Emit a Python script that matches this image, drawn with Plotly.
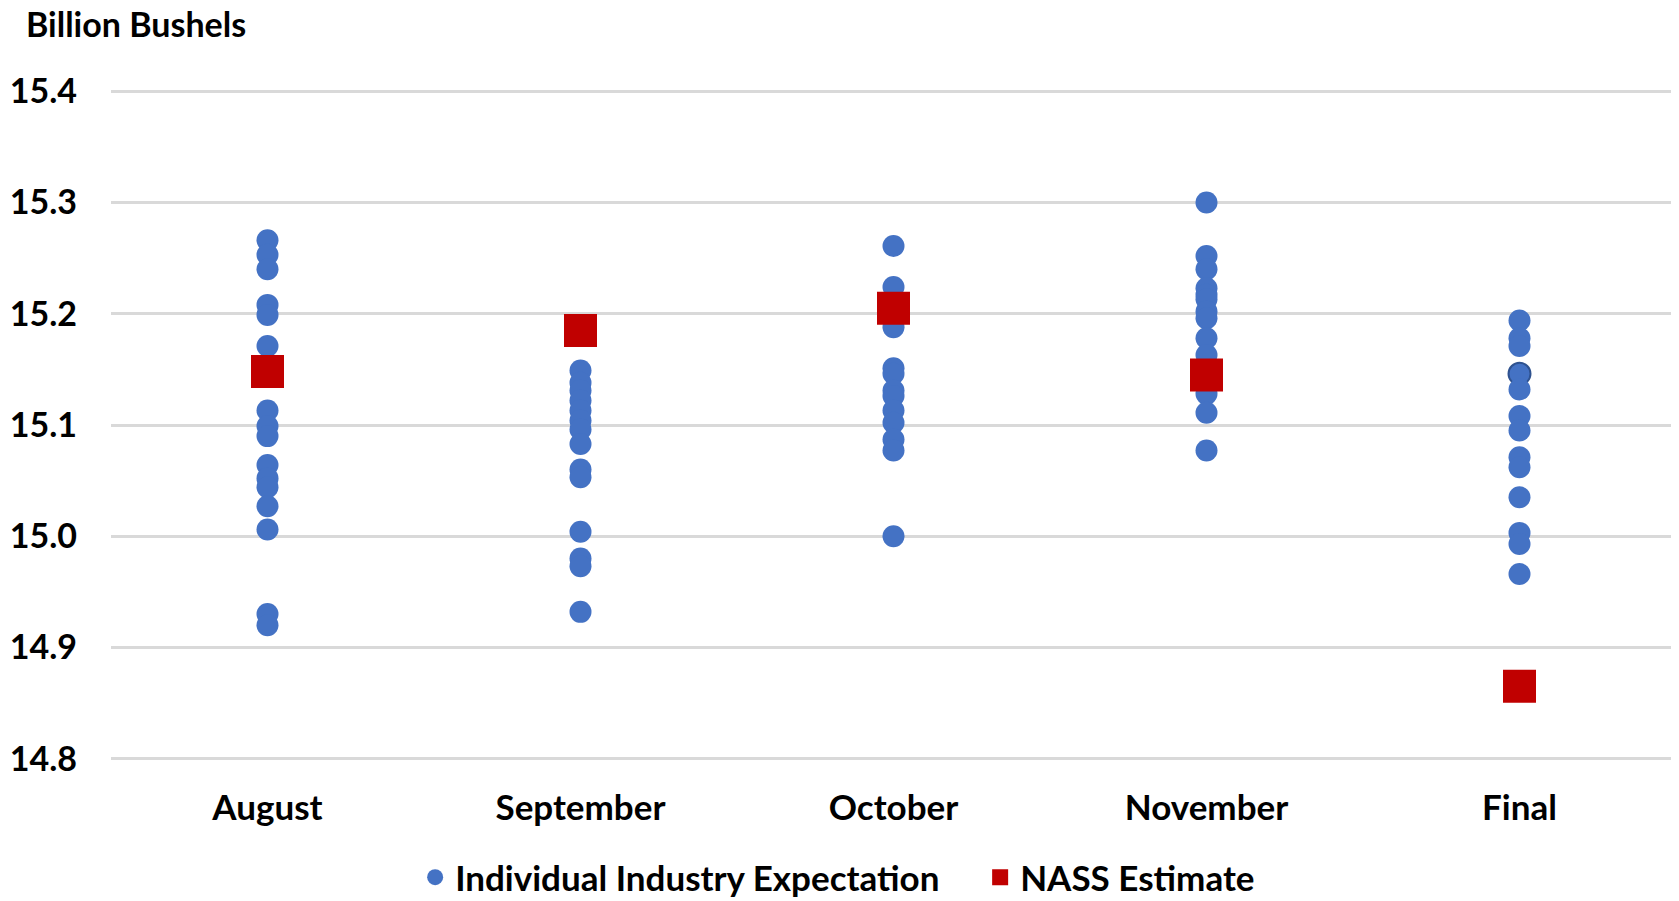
import plotly.graph_objects as go

months = ["August", "September", "October", "November", "Final"]

aug_exp = [15.266, 15.253, 15.240, 15.208, 15.199, 15.171, 15.113, 15.099, 15.090,
           15.064, 15.052, 15.044, 15.027, 15.006, 14.930, 14.920]
sep_exp = [15.149, 15.138, 15.131, 15.122, 15.113, 15.104, 15.096, 15.083, 15.060,
           15.053, 15.004, 14.980, 14.973, 14.932]
oct_exp = [15.261, 15.224, 15.188, 15.151, 15.146, 15.131, 15.126, 15.113, 15.102,
           15.087, 15.077, 15.000]
nov_exp = [15.300, 15.252, 15.240, 15.223, 15.217, 15.213, 15.202, 15.196, 15.178,
           15.163, 15.128, 15.111, 15.077]
fin_exp = [15.194, 15.178, 15.171, 15.146, 15.132, 15.108, 15.095, 15.071, 15.062,
           15.035, 15.003, 14.993, 14.966]

nass = [15.148, 15.185, 15.205, 15.145, 14.865]

y_ticks = [14.8, 14.9, 15.0, 15.1, 15.2, 15.3, 15.4]

FONT = "Lato"
BLUE = "#4472C4"
RED = "#C00000"
GRID = "#D9D9D9"

exp_groups = [aug_exp, sep_exp, oct_exp, nov_exp, fin_exp]
xs, ys = [], []
for m, vals in zip(months, exp_groups):
    xs += [m] * len(vals)
    ys += vals

line_colors = [BLUE] * len(ys)
line_widths = [0] * len(ys)
# darker-outlined point in "Final"
idx = len(ys) - len(fin_exp) + 3
line_colors[idx] = "#2F528F"
line_widths[idx] = 2

fig = go.Figure()
fig.add_trace(go.Scatter(
    x=xs, y=ys, mode="markers", name="Individual Industry Expectation",
    marker=dict(color=BLUE, size=22, symbol="circle",
                line=dict(color=line_colors, width=line_widths)),
))
fig.add_trace(go.Scatter(
    x=months, y=nass, mode="markers", name="NASS Estimate",
    marker=dict(color=RED, size=33, symbol="square", line=dict(width=0)),
))

fig.update_layout(
    width=1679, height=901,
    margin=dict(l=103, r=11, t=80, b=147, autoexpand=False),
    paper_bgcolor="white", plot_bgcolor="white",
    font=dict(family=FONT, size=34, color="black", weight="bold"),
    showlegend=True,
    legend=dict(orientation="h", xref="container", yref="container",
                x=0.579, xanchor="center", y=0.035, yanchor="middle",
                font=dict(family=FONT, size=35, color="black", weight="bold"),
                itemsizing="trace", itemwidth=30,
                entrywidth=520, entrywidthmode="pixels"),
    annotations=[dict(text="Billion Bushels", xref="paper", yref="paper",
                      x=-0.0556, y=1.095, xanchor="left", yanchor="middle",
                      showarrow=False,
                      font=dict(family=FONT, size=34, color="black", weight="bold"))],
)
fig.update_xaxes(
    type="category", categoryorder="array", categoryarray=months,
    showgrid=False, zeroline=False, showline=False, automargin=False,
    ticks="", ticklabelstandoff=22,
    tickfont=dict(family=FONT, size=35, color="black", weight="bold"),
    range=[-0.5, 4.5],
)
fig.update_yaxes(
    range=[14.797, 15.403], tickvals=y_ticks, tickformat=".1f",
    showgrid=True, gridcolor=GRID, gridwidth=2.5, automargin=False,
    zeroline=False, showline=False, ticks="",
    ticklabelstandoff=33,
    tickfont=dict(family=FONT, size=34, color="black", weight="bold"),
)

fig.write_html("out.html")
